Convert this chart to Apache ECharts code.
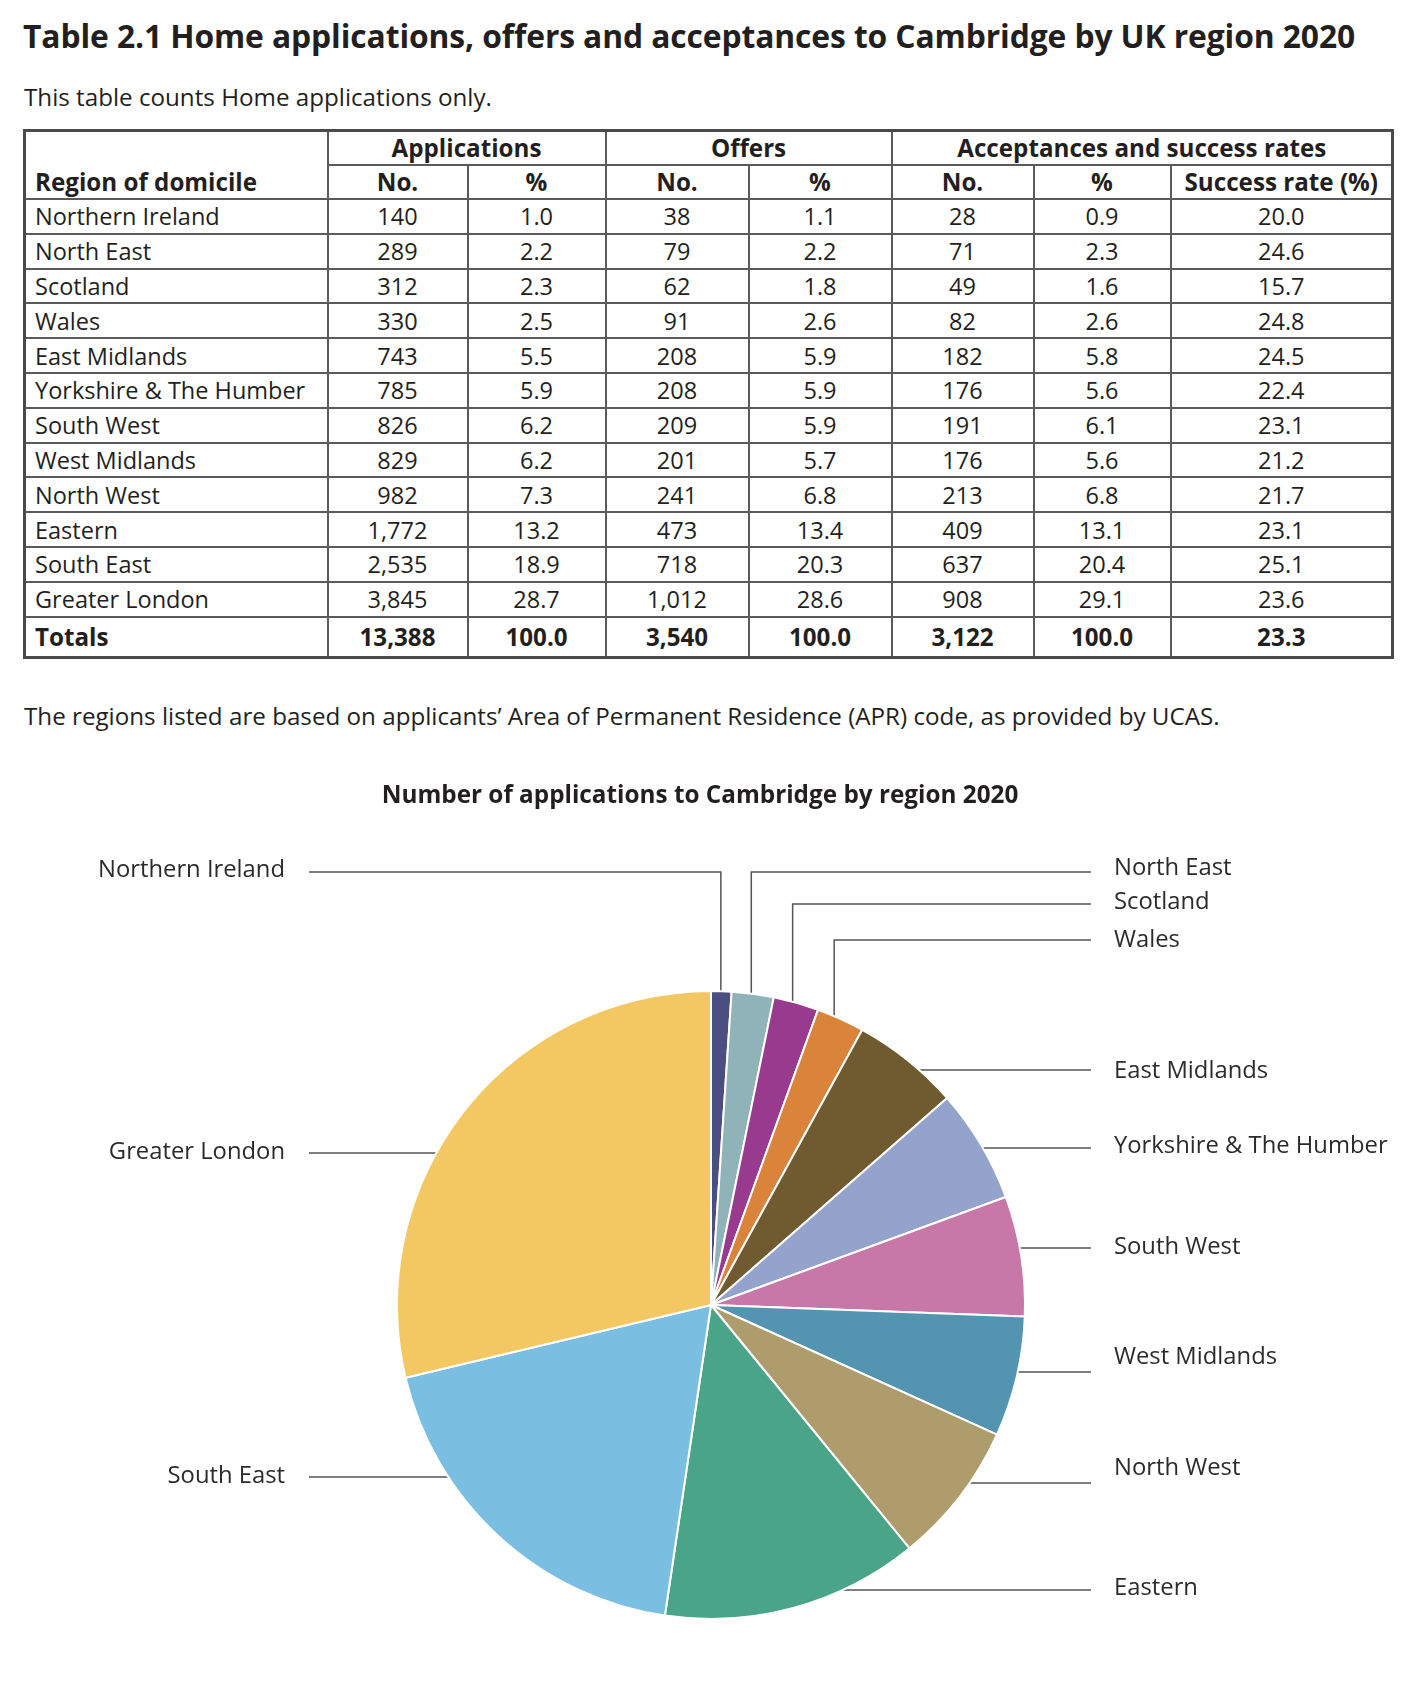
<!DOCTYPE html>
<html>
<head>
<meta charset="utf-8">
<script src="https://cdn.jsdelivr.net/npm/echarts@6/dist/echarts.min.js"></script>
<style>
  html, body { margin:0; padding:0; background:#fff; }
  body { width:1410px; height:1682px; position:relative; overflow:hidden; font-family:'Open Sans', sans-serif; color:#231f20; }
  .abs { position:absolute; white-space:nowrap; }
  #title { left:23px; top:15px; font-size:31.8px; font-weight:700; line-height:42px; letter-spacing:-0.1px; }
  #subtitle { left:24px; top:81px; font-size:24.2px; line-height:32px; }
  #note { left:24px; top:700px; font-size:24.2px; line-height:32px; }
  table { position:absolute; left:23px; top:129px; width:1368px; border-collapse:collapse; table-layout:fixed; font-size:23.5px; }
  td, th { border:2px solid #5a5a5a; padding:0; text-align:center; line-height:30px; overflow:hidden; white-space:nowrap; }
  th { font-weight:700; font-size:24.2px; }
  td.name, th.name { text-align:left; padding-left:9px; }
  th.name { vertical-align:bottom; padding-bottom:1px; }
  tr.h1 { height:34px; } tr.h2 { height:34.5px; } tr.d { height:34.8px; } tr.t { height:41px; }
  tr.t td { font-weight:700; font-size:24.2px; border-bottom:3px solid #4a4a4a; }
  table { border:3px solid #4a4a4a; }
  #chart { position:absolute; left:0; top:740px; width:1400px; height:942px; }
</style>
</head>
<body>
<div id="title" class="abs">Table 2.1 Home applications, offers and acceptances to Cambridge by UK region 2020</div>
<div id="subtitle" class="abs">This table counts Home applications only.</div>
<table id="tbl"></table>
<div id="note" class="abs">The regions listed are based on applicants’ Area of Permanent Residence (APR) code, as provided by UCAS.</div>
<div id="chart"></div>
<script>
// ---------------- data ----------------
const regions = ['Northern Ireland','North East','Scotland','Wales','East Midlands','Yorkshire & The Humber','South West','West Midlands','North West','Eastern','South East','Greater London'];
const appNo   = [140, 289, 312, 330, 743, 785, 826, 829, 982, 1772, 2535, 3845];
const appPct  = [1.0, 2.2, 2.3, 2.5, 5.5, 5.9, 6.2, 6.2, 7.3, 13.2, 18.9, 28.7];
const offNo   = [38, 79, 62, 91, 208, 208, 209, 201, 241, 473, 718, 1012];
const offPct  = [1.1, 2.2, 1.8, 2.6, 5.9, 5.9, 5.9, 5.7, 6.8, 13.4, 20.3, 28.6];
const accNo   = [28, 71, 49, 82, 182, 176, 191, 176, 213, 409, 637, 908];
const accPct  = [0.9, 2.3, 1.6, 2.6, 5.8, 5.6, 6.1, 5.6, 6.8, 13.1, 20.4, 29.1];
const successRate = [20.0, 24.6, 15.7, 24.8, 24.5, 22.4, 23.1, 21.2, 21.7, 23.1, 25.1, 23.6];
const totalsRow = ['Totals', 13388, 100.0, 3540, 100.0, 3122, 100.0, 23.3];
const groupHeaders = ['Applications', 'Offers', 'Acceptances and success rates'];
const groupSpans = [2, 2, 3];
const subHeaders = ['No.', '%', 'No.', '%', 'No.', '%', 'Success rate (%)'];
const firstHeader = 'Region of domicile';
const chartTitle = 'Number of applications to Cambridge by region 2020';

// ---------------- styles / layout ----------------
const colWidths = [303, 140, 138, 143, 143, 142, 137, 222];
const sliceColors = ['#4b4e80','#8fb3b8','#983b8e','#d9843a','#705b31','#93a3cb','#c878a8','#5395b0','#ae9c6d','#4aa487','#7abfe2','#f3c862'];
// label layout: side, leader type ('v' = vertical into slice, 'h' = horizontal), line y, text y offset, anchor radius fraction
const labelSide = ['left','right','right','right','right','right','right','right','right','right','left','left'];
const labelType = ['v','v','v','v','h','h','h','h','h','h','h','h'];
const labelLineY = [132, 132, 164, 200, 330, 408, 508, 632, 743, 850, 737, 413];
const labelTextDy = [-2, -4, -2, 0, 1, -2, -1, -15, -15, -2, -1, -1];
const labelAnchorF = [0.955, 0.964, 0.959, 0.951, 1.0, 0.954, 0.966, 0.889, 0.881, 0.954, 0.905, 0.867];
const CX = 711, CY = 565, R = 314;
const RIGHT_LINE_END = 1091, RIGHT_TEXT_X = 1114, LEFT_LINE_END = 309, LEFT_TEXT_X = 285;

// ---------------- table ----------------
const fmtN = v => v.toLocaleString('en-US');
const fmtP = v => v.toFixed(1);
(function buildTable(){
  const t = document.getElementById('tbl');
  let h = '<colgroup>' + colWidths.map(w => `<col style="width:${w}px">`).join('') + '</colgroup>';
  h += `<tr class="h1"><th class="name" rowspan="2">${firstHeader}</th>` +
       groupHeaders.map((g,i) => `<th colspan="${groupSpans[i]}">${g}</th>`).join('') + '</tr>';
  h += '<tr class="h2">' + subHeaders.map(s => `<th>${s}</th>`).join('') + '</tr>';
  regions.forEach((r,i) => {
    h += `<tr class="d"><td class="name">${r}</td><td>${fmtN(appNo[i])}</td><td>${fmtP(appPct[i])}</td>` +
         `<td>${fmtN(offNo[i])}</td><td>${fmtP(offPct[i])}</td><td>${fmtN(accNo[i])}</td><td>${fmtP(accPct[i])}</td>` +
         `<td>${fmtP(successRate[i])}</td></tr>`;
  });
  h += `<tr class="t"><td class="name">${totalsRow[0]}</td><td>${fmtN(totalsRow[1])}</td><td>${fmtP(totalsRow[2])}</td>` +
       `<td>${fmtN(totalsRow[3])}</td><td>${fmtP(totalsRow[4])}</td><td>${fmtN(totalsRow[5])}</td><td>${fmtP(totalsRow[6])}</td>` +
       `<td>${fmtP(totalsRow[7])}</td></tr>`;
  t.innerHTML = h;
})();

// ---------------- pie ----------------
const chart = echarts.init(document.getElementById('chart'), null, {renderer:'canvas'});
const total = appNo.reduce((a,b)=>a+b,0);
function midDir(i){
  let cum = 0; for (let k=0;k<i;k++) cum += appNo[k];
  const a = (cum + appNo[i]/2) / total * 2*Math.PI; // clockwise from top
  return [Math.sin(a), -Math.cos(a)];
}
chart.setOption({
  animation:false,
  title:{ text:chartTitle, left:'center', top:44, padding:0,
          textStyle:{ fontFamily:'Open Sans', fontSize:24.3, fontWeight:'bold', color:'#231f20' } },
  series:[{
    type:'pie', center:[CX, CY], radius:R, startAngle:90, clockwise:true,
    avoidLabelOverlap:false, silent:true,
    data: regions.map((r,i)=>({ name:r, value:appNo[i], itemStyle:{ color:sliceColors[i] } })),
    itemStyle:{ borderColor:'#ffffff', borderWidth:2 },
    label:{ show:true, position:'outside', formatter:'{b}', fontFamily:'Open Sans', fontSize:23.8, color:'#2b2b2b' },
    labelLine:{ show:true, length:10, length2:10, smooth:false, lineStyle:{ color:'#555', width:1.5 } },
    labelLayout: function(p){
      const i = p.dataIndex;
      const y = labelLineY[i];
      const right = labelSide[i] === 'right';
      const endX = right ? RIGHT_LINE_END : LEFT_LINE_END;
      let pts;
      if (labelType[i] === 'v') {
        let dx, dy;
        const lp = p.labelLinePoints;
        if (lp && lp[0]) { dx = lp[0][0]-CX; dy = lp[0][1]-CY; const d = Math.hypot(dx,dy); dx/=d; dy/=d; }
        else { [dx,dy] = midDir(i); }
        const ax = CX + dx*labelAnchorF[i]*R, ay = CY + dy*labelAnchorF[i]*R;
        pts = [[ax, ay], [ax, y], [endX, y]];
      } else {
        const r = labelAnchorF[i]*R, dy = y - CY;
        const dx = Math.sqrt(Math.max(0, r*r - dy*dy));
        const ax = CX + (right ? dx : -dx);
        pts = [[ax, y], [(ax+endX)/2, y], [endX, y]];
      }
      return {
        x: right ? RIGHT_TEXT_X : LEFT_TEXT_X,
        y: y + labelTextDy[i],
        align: right ? 'left' : 'right',
        verticalAlign: 'middle',
        labelLinePoints: pts
      };
    }
  }]
});
</script>
</body>
</html>
